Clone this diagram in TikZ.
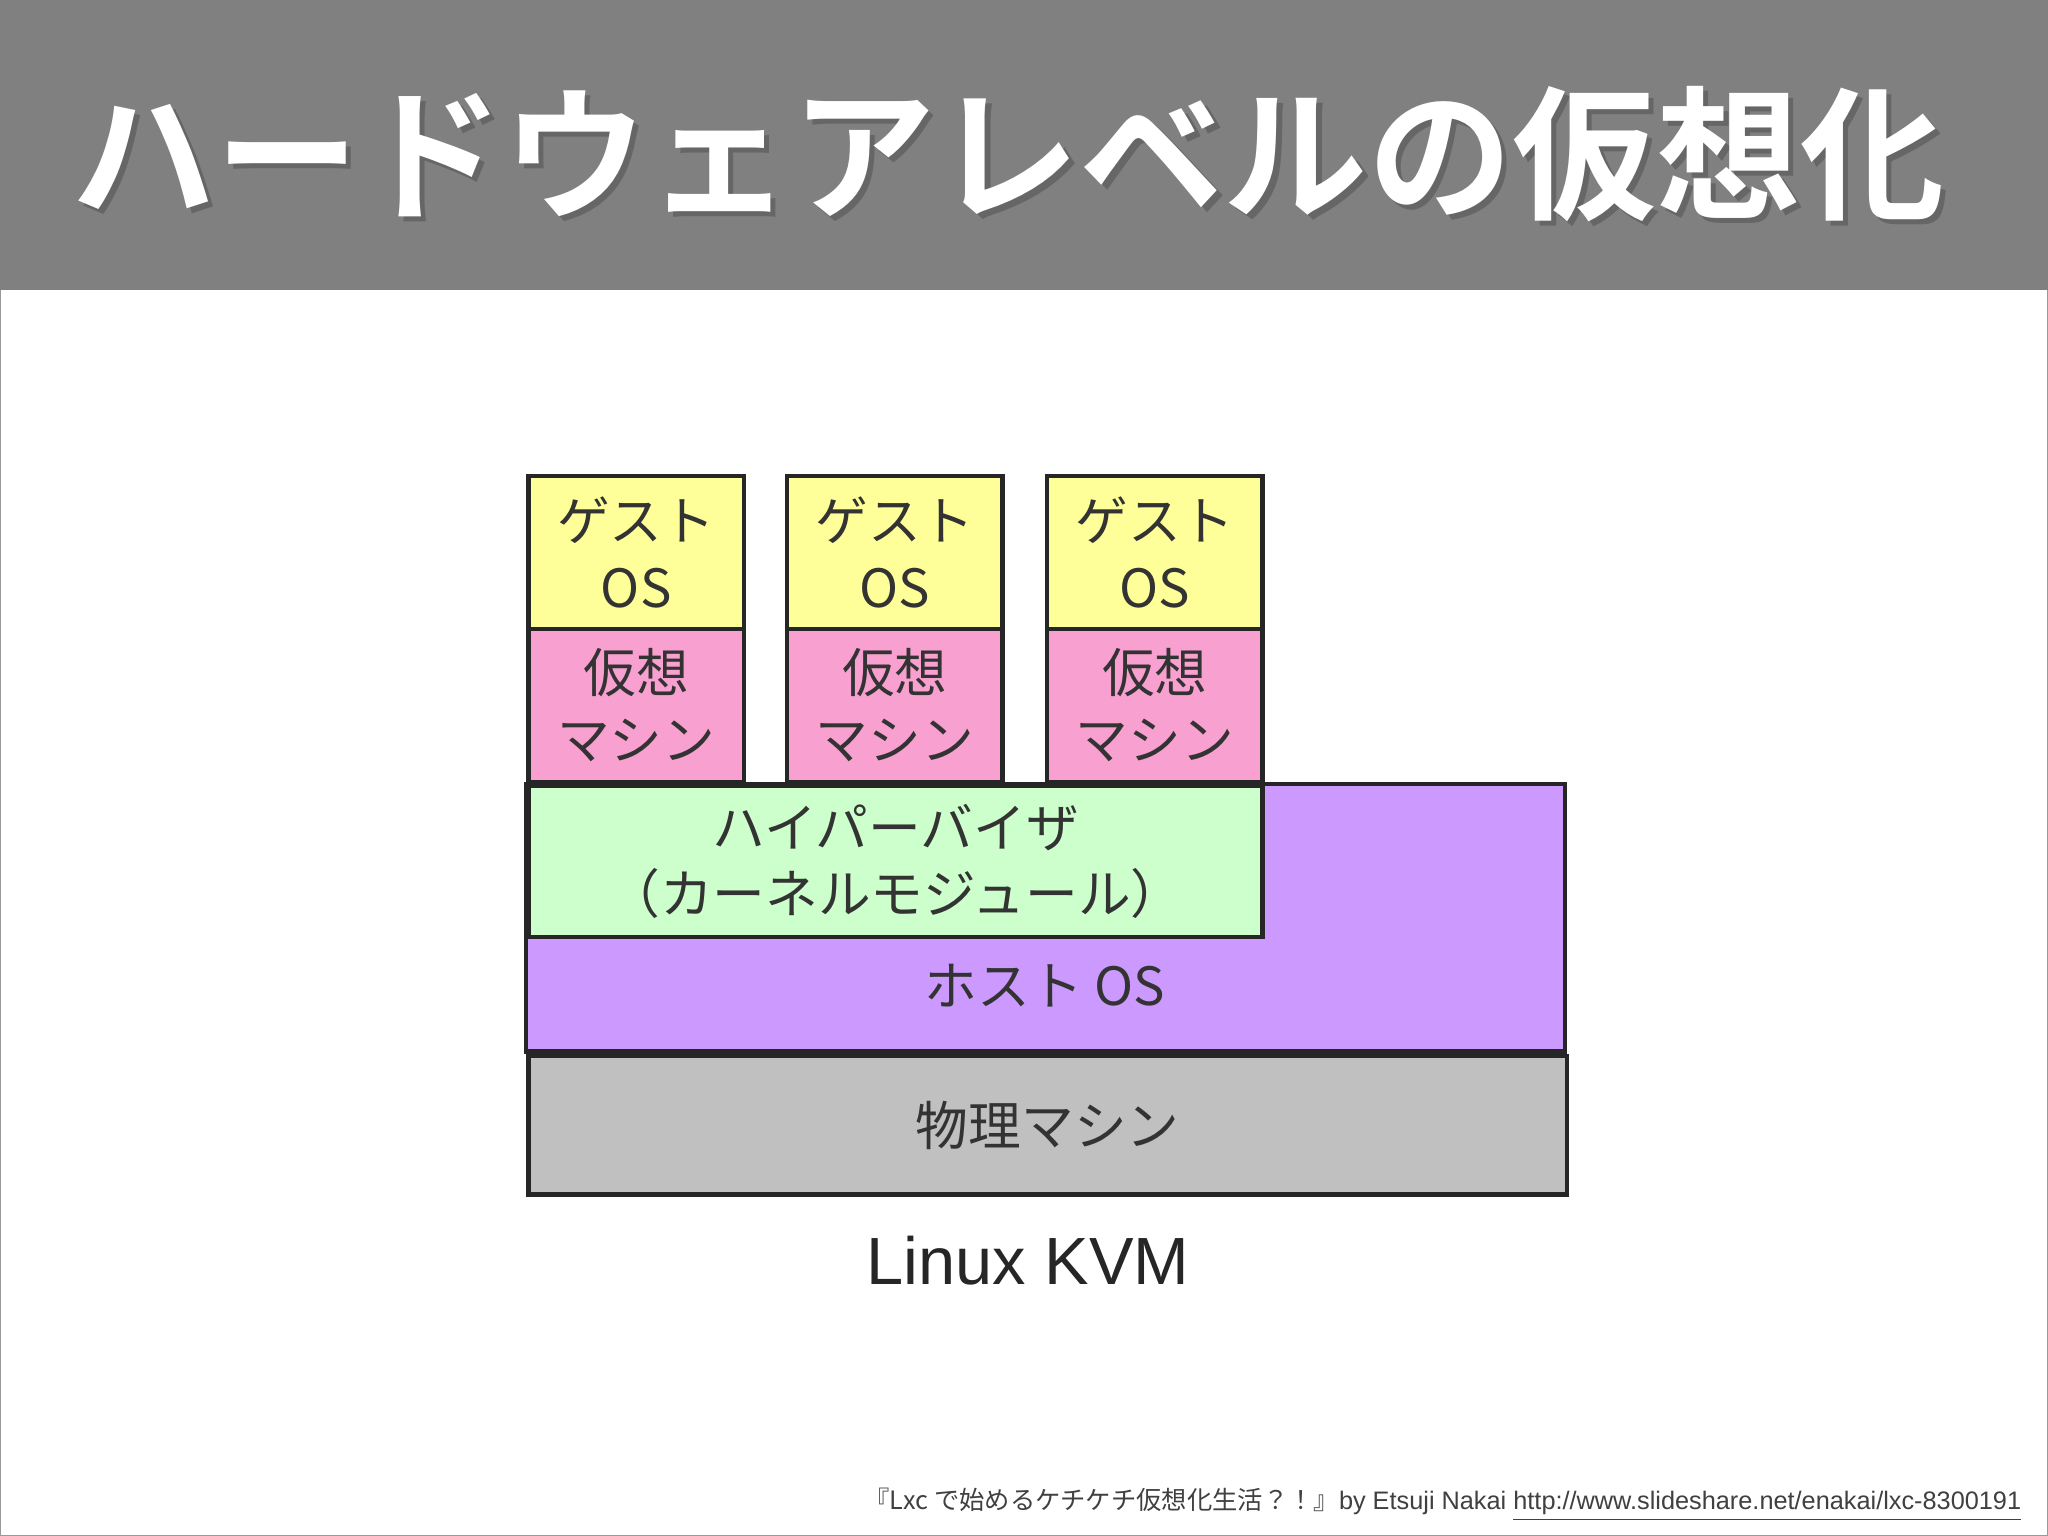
\documentclass[tikz,border=0pt]{standalone}
\usepackage{fontspec}
\setmainfont{Liberation Sans}
\newfontfamily\jp{Noto Sans CJK JP}
\newfontfamily\jpb{Noto Sans CJK JP Bold}
\begin{document}
\begin{tikzpicture}[x=0.01306cm,y=-0.01306cm,
  lay/.style={draw=black!85,line width=1.2pt,inner sep=0pt,font=\jp\fontsize{15}{19}\selectfont,align=center,text=black!80}]
\useasboundingbox (0,0) rectangle (1568,1176);
\fill[white] (0,0) rectangle (1568,1176);
\draw[black!40] (0.5,0.5) rectangle (1567.5,1175.5);
\fill[gray!100!white,fill=black!50] (0,0) rectangle (1568,222);
\node[text=black!60,font=\jpb\fontsize{41}{48}\selectfont,anchor=west] at (49,122) {ハードウェアレベルの仮想化};
\node[text=white,font=\jpb\fontsize{41}{48}\selectfont,anchor=west] (title) at (45,118) {ハードウェアレベルの仮想化};
% boxes
\path[lay,fill={rgb,255:red,204;green,153;blue,255}] (403,600) rectangle (1198,805);
\node[font=\jp\fontsize{15}{19}\selectfont,text=black!80] (host) at (800,755) {ホスト OS};
\node[lay,fill={rgb,255:red,192;green,192;blue,192},minimum width=795*0.01306cm,minimum height=106*0.01306cm,anchor=north west] (phys) at (403,807) {物理マシン};
\node[lay,fill={rgb,255:red,204;green,255;blue,204},minimum width=562*0.01306cm,minimum height=116*0.01306cm,anchor=north west] (hyp) at (403,600) {ハイパーバイザ\\（カーネルモジュール）};
\foreach \x/\n in {403/a,601/b,800/c}{
  \node[lay,fill={rgb,255:red,255;green,255;blue,153},minimum width=165*0.01306cm,minimum height=117*0.01306cm,anchor=north west] (g\n) at (\x,363) {ゲスト\\OS};
  \node[lay,fill={rgb,255:red,248;green,160;blue,208},minimum width=165*0.01306cm,minimum height=117*0.01306cm,anchor=north west] (v\n) at (\x,480) {仮想\\マシン};
}
\node[font=\fontsize{19}{22}\selectfont,text=black!85] (kvm) at (787,965) {Linux KVM};
\node[anchor=east,font=\fontsize{7.2}{9}\selectfont,text=black!75] (foot) at (1557,1152) {{\jp『Lxc で始めるケチケチ仮想化生活？！』}by Etsuji Nakai \underline{http://www.slideshare.net/enakai/lxc-8300191}};
\end{tikzpicture}
\end{document}
